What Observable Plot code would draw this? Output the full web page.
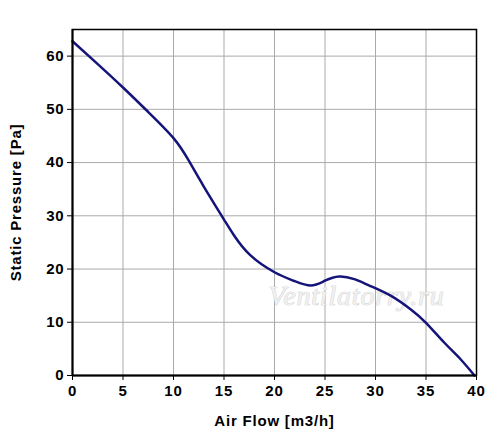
<!DOCTYPE html>
<html><head><meta charset="utf-8">
<script src="https://cdn.jsdelivr.net/npm/d3@7"></script>
<script src="https://cdn.jsdelivr.net/npm/@observablehq/plot@0.6"></script>
<style>
body{margin:0;background:#fff;font-family:Arial,"Liberation Sans",sans-serif;}
</style></head>
<body><div id="chart"></div>
<script>
const flow = [0, 2.5, 5, 7.5, 10, 11.5, 13, 15, 16, 17.6, 20, 21.9, 23.6, 25, 26.4, 27.9, 29.4, 31.5, 33.5, 35, 36.8, 38.4, 39.8];
const pressure = [62.8, 58.5, 54.1, 49.5, 44.6, 40.4, 35.5, 29.3, 26.3, 22.6, 19.4, 17.8, 16.9, 17.8, 18.6, 18.1, 16.9, 15.0, 12.4, 9.9, 6.2, 3.1, 0];
const xTicks = [0, 5, 10, 15, 20, 25, 30, 35, 40];
const yTicks = [0, 10, 20, 30, 40, 50, 60];
const xLabel = "Air Flow [m3/h]";
const yLabel = "Static Pressure [Pa]";
const watermark = "Ventilatorry.ru";

const data = flow.map((f, i) => ({f, p: pressure[i]}));

const chart = Plot.plot({
  width: 500, height: 440,
  marginLeft: 72, marginRight: 24, marginTop: 29, marginBottom: 65,
  style: {fontFamily: "Arial, 'Liberation Sans', sans-serif", fontSize: "15px", fontWeight: "bold", letterSpacing: "0.8px", color: "#000", background: "#fff"},
  x: {domain: [0, 40], ticks: xTicks, label: null},
  y: {domain: [0, 65], ticks: yTicks, label: null},
  marks: [
    Plot.gridX(xTicks, {stroke: "#aaa", strokeOpacity: 1, strokeWidth: 1}),
    Plot.gridY(yTicks, {stroke: "#aaa", strokeOpacity: 1, strokeWidth: 1}),
    Plot.text([watermark], {frameAnchor: "middle", dx: 82, dy: 94, text: d => d, fill: "#f0f0f0", stroke: "#c4c4c4", strokeWidth: 0.7, fontSize: 28, fontStyle: "italic", fontWeight: "normal", fontFamily: "Times New Roman, Liberation Serif, serif"}),
    Plot.line(data, {x: "f", y: "p", curve: "natural", stroke: "#14147a", strokeWidth: 2.5}),
    Plot.frame({stroke: "#000", strokeWidth: 1.5}),
    Plot.ruleX([0], {stroke: "#000", strokeWidth: 2}),
    Plot.ruleY([0], {stroke: "#000", strokeWidth: 2}),
    Plot.axisX({ticks: xTicks, tickSize: 5, tickPadding: 5, label: null}),
    Plot.axisY({ticks: yTicks, tickSize: 5, tickPadding: 3, label: null}),
    Plot.axisX({ticks: [], label: xLabel, labelAnchor: "center", labelArrow: "none", labelOffset: 50}),
    Plot.axisY({ticks: [], label: yLabel, labelAnchor: "center", labelArrow: "none", labelOffset: 62})
  ]
});
document.getElementById("chart").appendChild(chart);
</script>
</body></html>
